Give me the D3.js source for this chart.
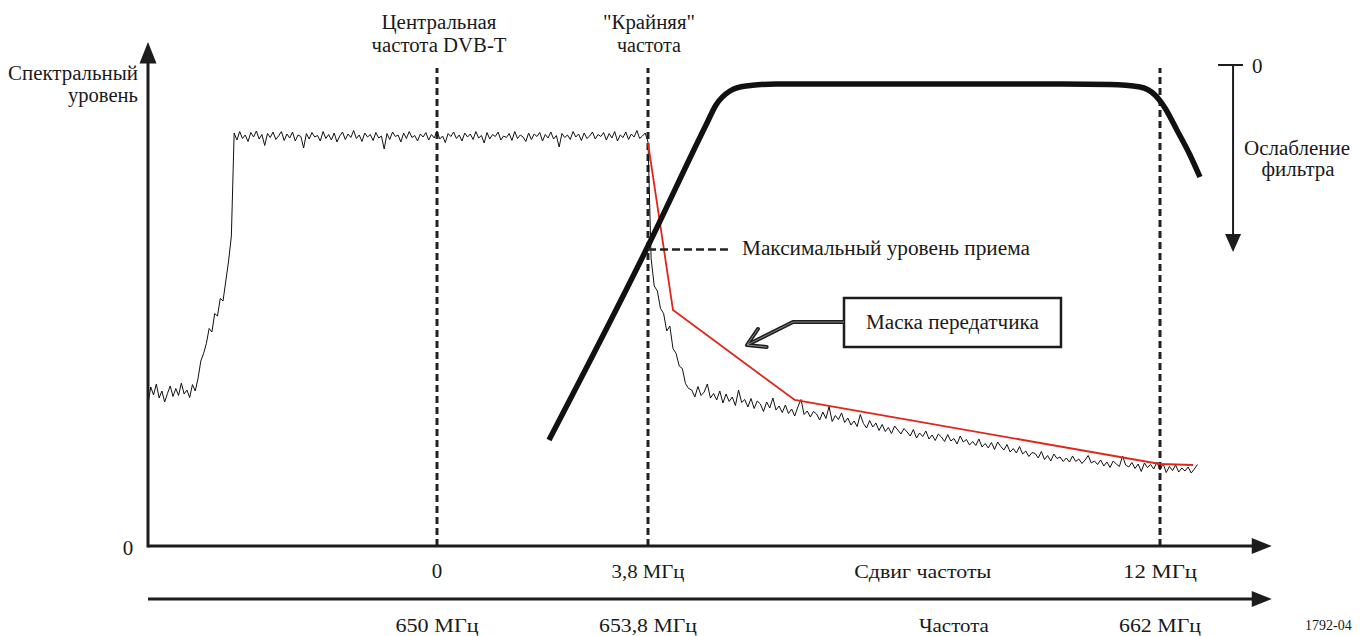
<!DOCTYPE html>
<html><head><meta charset="utf-8">
<script src="https://cdn.jsdelivr.net/npm/d3@7"></script>
<style>
body{margin:0;background:#fff}
svg{display:block}
text{font-family:"Liberation Serif","DejaVu Serif","Times New Roman",serif;fill:#1a1a1a}
</style>
</head><body><svg id="c" width="1364" height="636"></svg>
<script>
// ---- data (schematic: frequency offset in MHz, spectral level in arbitrary units 0..100) ----
const freqBreaks = [-5.2, 0, 3.8, 12];
const shiftTicks = [0, 3.8, 12];
const shiftLabels = ["0", "3,8 МГц", "12 МГц"];
const freqLabels = ["650 МГц", "653,8 МГц", "662 МГц"];
const markerFreqs = [0, 3.8, 12];
const topLabels = [["Центральная", "частота DVB-T"], ["\"Крайняя\"", "частота"]];
const specStart = -5.2, specStep = 0.05;
const specLevel = [
28.5,31.8,30.2,32.4,29.6,31.0,28.8,30.5,32.0,29.9,31.5,30.1,32.6,30.4,31.2,29.7,32.3,31.0,
33.5,37.0,38.5,40.5,43.5,42.8,46.5,46.0,49.5,49.0,53.0,57.0,62.0,
82.6,81.2,82.9,81.5,82.2,80.9,82.7,81.8,83.0,81.4,
82.3,80.1,82.5,81.7,82.8,81.3,82.0,82.9,81.1,82.4,
81.6,82.8,81.0,82.2,81.9,79.6,82.5,81.4,82.7,81.8,
82.1,81.0,82.9,81.5,82.3,81.2,82.6,80.8,82.0,82.8,
81.3,82.4,81.7,83.1,81.5,82.2,80.9,82.6,81.8,82.3,
81.1,82.7,81.6,82.0,79.4,82.5,81.3,82.8,81.9,82.2,
80.8,82.6,81.5,82.9,81.7,82.1,81.0,82.4,81.8,82.7,
81.2,82.3,81.6,83.0,81.4,82.0,80.7,82.5,81.9,82.8,
81.5,82.2,81.0,82.6,81.8,82.4,81.3,82.9,81.6,82.1,
80.6,82.7,81.4,82.3,81.9,82.8,81.2,82.0,81.7,82.5,
81.1,82.9,81.5,82.2,81.8,80.9,82.6,81.3,82.4,81.9,
82.7,81.0,82.3,81.6,82.8,81.4,82.1,79.8,82.5,81.7,
82.2,81.3,82.9,81.8,82.4,81.1,82.6,81.5,82.0,82.8,
81.4,82.3,81.9,82.7,81.2,82.5,81.6,82.9,81.0,82.2,
81.7,82.8,81.3,82.4,81.8,83.1,81.5,82.0,82.6,
80.8,
57.5,52.0,51.0,47.5,46.5,43.0,44.0,39.5,38.5,36.0,35.5,32.5,31.5,
31.2,29.8,31.9,30.1,30.8,32.4,29.6,30.5,29.2,31.0,
28.6,30.4,28.9,29.8,28.1,31.2,28.7,29.3,27.8,29.5,
27.5,29.0,28.4,26.9,28.8,27.6,29.6,27.2,28.0,26.7,
28.2,26.5,27.4,26.0,27.8,29.3,26.3,27.0,25.8,26.9,
26.4,25.2,26.8,25.5,27.9,24.9,26.1,25.3,26.6,24.7,
25.6,24.2,25.0,23.9,26.3,24.5,23.6,25.1,23.8,24.6,
23.1,24.3,22.9,23.7,22.5,24.0,23.2,22.4,23.5,22.8,
22.0,23.3,21.6,22.6,21.9,23.0,21.4,22.2,21.1,22.4,
21.8,20.9,22.3,21.0,21.5,20.4,22.0,20.8,21.3,20.2,
20.9,20.1,21.4,19.8,20.5,19.6,20.7,19.3,20.8,19.9,
19.2,20.3,18.8,19.5,18.6,19.9,18.4,19.0,17.9,18.7,
18.5,17.6,18.9,17.3,18.1,17.0,18.4,17.5,17.8,16.9,
17.6,16.8,18.0,16.9,17.4,16.5,17.2,18.1,16.6,17.0,
16.3,17.2,16.0,16.8,15.7,17.0,16.4,15.9,18.0,16.2,
15.8,16.7,15.5,16.4,14.9,16.6,15.7,16.3,15.4,16.8,
15.2,16.5,14.7,15.9,15.1,16.2,14.8,15.6,15.0,15.8,
14.6,15.4,16.3
];
const maskFreq  = [3.8, 4.2, 6.15, 12, 12.53];
const maskLevel = [80.6, 47.2, 29.2, 16.4, 16.2];
const filterFreq  = [2.017, 3.8, 4.729, 4.889, 5.113, 5.369, 5.85, 7.9, 10.24, 11.2, 11.68, 11.92, 12.08, 12.27, 12.48, 12.64];
const filterLevel = [21.2, 60.0, 84.2, 88.2, 91.0, 92.0, 92.4, 92.4, 92.4, 92.3, 91.8, 90.2, 87.6, 83.2, 78.2, 73.8];
const maxRecvLevel = 59.3;

// ---- scales ----
const svg = d3.select("#c");
const x = d3.scaleLinear().domain(freqBreaks).range([148, 437, 648, 1160]);
const y = d3.scaleLinear().domain([0, 100]).range([546, 46]);
const ink = "#1c1c1c";

function label(px, py, txt, size, anchor, width) {
  const t = svg.append("text").attr("x", px).attr("y", py).attr("font-size", size)
    .attr("text-anchor", anchor || "start").text(txt);
  if (width) t.attr("textLength", width).attr("lengthAdjust", "spacingAndGlyphs");
  return t;
}

// vertical dashed markers
svg.selectAll("line.mk").data(markerFreqs).join("line")
  .attr("x1", d => x(d)).attr("x2", d => x(d))
  .attr("y1", y(0)).attr("y2", y(95.6))
  .attr("stroke", "#222").attr("stroke-width", 3).attr("stroke-dasharray", "7,4");

// spectrum
const spec = specLevel.map((v, i) => [specStart + i * specStep, v]);
svg.append("path").datum(spec)
  .attr("d", d3.line().x(d => x(d[0])).y(d => y(d[1])))
  .attr("fill", "none").attr("stroke", "#111").attr("stroke-width", 1);

// transmitter mask
svg.append("path").datum(maskFreq.map((f, i) => [f, maskLevel[i]]))
  .attr("d", d3.line().x(d => x(d[0])).y(d => y(d[1])))
  .attr("fill", "none").attr("stroke", "#e0261c").attr("stroke-width", 1.8);

// filter response
svg.append("path").datum(filterFreq.map((f, i) => [f, filterLevel[i]]))
  .attr("d", d3.line().curve(d3.curveMonotoneX).x(d => x(d[0])).y(d => y(d[1])))
  .attr("fill", "none").attr("stroke", "#111").attr("stroke-width", 5.5);

// max reception level
svg.append("line").attr("x1", x(3.8)).attr("x2", x(5.08))
  .attr("y1", y(maxRecvLevel)).attr("y2", y(maxRecvLevel))
  .attr("stroke", "#222").attr("stroke-width", 2.5).attr("stroke-dasharray", "8,4");
label(x(5.305), y(58.2), "Максимальный уровень приема", 20, "start", 288);

// axes
function arrowRight(yy) {
  svg.append("line").attr("x1", 148).attr("x2", x(13.6)).attr("y1", yy).attr("y2", yy)
    .attr("stroke", ink).attr("stroke-width", 3);
  const tip = x(13.79);
  svg.append("path").attr("d", `M${tip},${yy}L${tip-20},${yy-8}L${tip-20},${yy+8}Z`).attr("fill", ink);
}
arrowRight(y(0));
arrowRight(y(-10.6));
svg.append("line").attr("x1", 148).attr("x2", 148).attr("y1", y(0) + 1.5).attr("y2", y(98))
  .attr("stroke", ink).attr("stroke-width", 3);
svg.append("path").attr("d", `M148,${y(100.8)}L139.5,${y(96.5)}L156.5,${y(96.5)}Z`).attr("fill", ink);

// tick labels
const shiftW = [null, 73, 74], freqW = [83, 98, 82];
shiftTicks.forEach((d, i) => {
  label(x(d), 578, shiftLabels[i], i === 0 ? 21 : 19, "middle", shiftW[i]);
  label(x(d), 632, freqLabels[i], 19, "middle", freqW[i]);
});
label(x(8.2), 578, "Сдвиг частоты", 19, "middle", 137);
label(x(8.7), 632, "Частота", 19, "middle", 70);
label(128, 555, "0", 21, "middle");
label(138, 80, "Спектральный", 20, "end", 130);
label(138, 102, "уровень", 20, "end", 70);

// top labels
const topW = [[115, 135], [92, 64]];
[0, 3.8].forEach((f, k) => {
  topLabels[k].forEach((t, j) => label(x(f) + (k === 0 ? 2 : 1), 29 + j * 23, t, 20, "middle", topW[k][j]));
});

// filter attenuation axis
const ax = x(13.17);
svg.append("line").attr("x1", ax - 15).attr("x2", ax + 10).attr("y1", 65).attr("y2", 65).attr("stroke", ink).attr("stroke-width", 2);
svg.append("line").attr("x1", ax).attr("x2", ax).attr("y1", 65).attr("y2", 238).attr("stroke", ink).attr("stroke-width", 2);
svg.append("path").attr("d", `M${ax},252L${ax-8},234L${ax+8},234Z`).attr("fill", ink);
label(ax + 19, 73, "0", 21, "start");
label(1297, 155, "Ослабление", 20, "middle", 106);
label(1298, 176, "фильтра", 20, "middle", 73);

// callout
const bx0 = x(6.939), bx1 = x(10.414), by0 = y(49.6), by1 = y(39.8);
svg.append("rect").attr("x", bx0).attr("y", by0).attr("width", bx1 - bx0).attr("height", by1 - by0)
  .attr("fill", "#fff").attr("stroke", ink).attr("stroke-width", 2.5);
label((bx0 + bx1) / 2, (by0 + by1) / 2 + 6, "Маска передатчика", 20, "middle", 173);
const arr = [[6.939, 44.8], [6.122, 44.8], [5.386, 40.2]];
const head = [[5.56, 43.4], [5.386, 40.2], [5.70, 39.8]];
const ln = d3.line().x(d => x(d[0])).y(d => y(d[1]));
[[ink, 4], ["#8a8a8a", 1]].forEach(([c, w]) => {
  svg.append("path").attr("d", ln(arr)).attr("fill", "none").attr("stroke", c).attr("stroke-width", w).attr("stroke-linejoin", "round");
  svg.append("path").attr("d", ln(head)).attr("fill", "none").attr("stroke", c).attr("stroke-width", w).attr("stroke-linejoin", "round").attr("stroke-linecap", "round");
});

label(1305, 630, "1792-04", 14, "start");
</script>
</body></html>
